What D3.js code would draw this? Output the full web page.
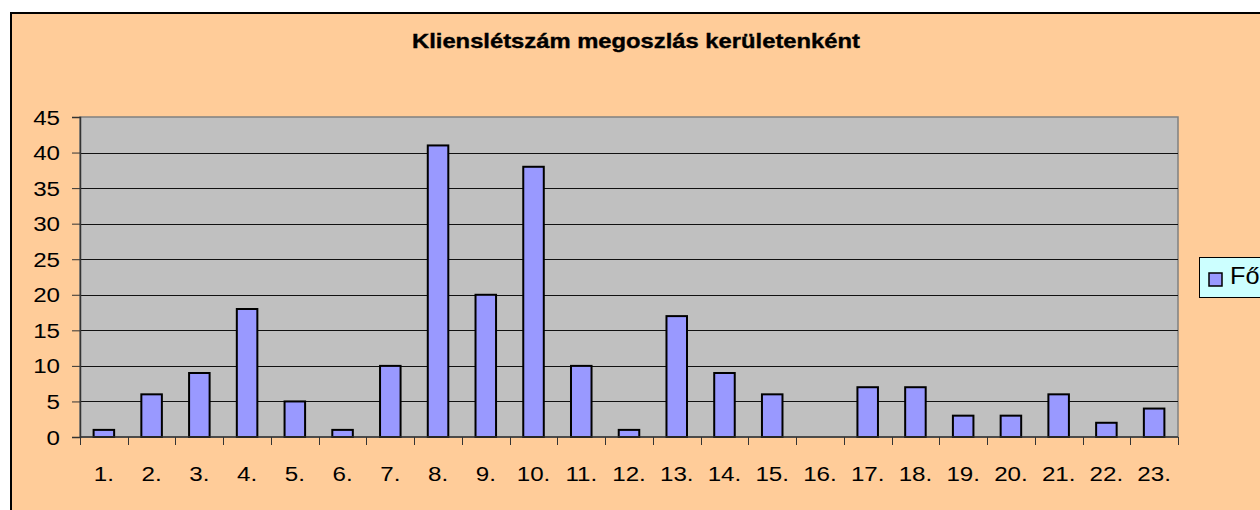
<!DOCTYPE html>
<html>
<head>
<meta charset="utf-8">
<script src="https://cdn.jsdelivr.net/npm/d3@7"></script>
<style>
    body { margin: 0; background: #fff; }
    svg { display: block; font-family: "Liberation Sans", Arial, sans-serif; }
</style>
</head>
<body>
<div id="chart"></div>
<script>
var districts = ["1.", "2.", "3.", "4.", "5.", "6.", "7.", "8.", "9.", "10.", "11.", "12.",
                 "13.", "14.", "15.", "16.", "17.", "18.", "19.", "20.", "21.", "22.", "23."];
var clients = [1, 6, 9, 18, 5, 1, 10, 41, 20, 38, 10, 1, 17, 9, 6, 0, 7, 7, 3, 3, 6, 2, 4];
var yTicks = [0, 5, 10, 15, 20, 25, 30, 35, 40, 45];
var seriesName = "Fő";
var chartTitle = "Klienslétszám megoszlás kerületenként";

var width = 1260;
var height = 510;
var plot = { left: 80, right: 1178, top: 117, bottom: 437 };
var stretch = 1.15; // the original text is a bit wider than Arial

var svg = d3.select("#chart").append("svg")
    .attr("width", width)
    .attr("height", height);

// chart background with black frame
svg.append("rect")
    .attr("x", 11)
    .attr("y", 13)
    .attr("width", width + 20)
    .attr("height", height + 20)
    .attr("fill", "#FFCC99")
    .attr("stroke", "#000")
    .attr("stroke-width", 2);

svg.append("text")
    .attr("x", 636)
    .attr("y", 48)
    .attr("text-anchor", "middle")
    .attr("font-size", "21px")
    .attr("font-weight", "bold")
    .attr("stroke", "#000")
    .attr("stroke-width", 0.4)
    .attr("textLength", 448)
    .attr("lengthAdjust", "spacingAndGlyphs")
    .text(chartTitle);

var x = d3.scaleBand()
    .domain(districts)
    .range([plot.left, plot.right])
    .padding(0);

var y = d3.scaleLinear()
    .domain([0, 45])
    .range([plot.bottom, plot.top]);

// plot area
svg.append("rect")
    .attr("x", plot.left)
    .attr("y", plot.top)
    .attr("width", plot.right - plot.left)
    .attr("height", plot.bottom - plot.top)
    .attr("fill", "#C0C0C0")
    .attr("stroke", "#808080")
    .attr("stroke-width", 1.5);

svg.append("g")
    .attr("class", "grid")
    .selectAll("line")
    .data(yTicks.filter(d => d > 0 && d < 45))
    .join("line")
    .attr("x1", plot.left)
    .attr("x2", plot.right)
    .attr("y1", d => Math.round(y(d)) + 0.5)
    .attr("y2", d => Math.round(y(d)) + 0.5)
    .attr("stroke", "#111")
    .attr("stroke-width", 1);

var barW = x.bandwidth() * 0.43;

svg.append("g")
    .attr("class", "bars")
    .selectAll("rect")
    .data(clients.map((v, i) => ({ name: districts[i], value: v })).filter(d => d.value > 0))
    .join("rect")
    .attr("x", d => x(d.name) + (x.bandwidth() - barW) / 2)
    .attr("y", d => y(d.value))
    .attr("width", barW)
    .attr("height", d => y(0) - y(d.value))
    .attr("fill", "#9999FF")
    .attr("stroke", "#000")
    .attr("stroke-width", 2);

// y axis: line and ticks from d3, labels drawn stretched
var yAxis = svg.append("g")
    .attr("transform", "translate(" + plot.left + ",0)")
    .call(d3.axisLeft(y).tickValues(yTicks).tickSize(8).tickFormat(""));
yAxis.select(".domain").attr("stroke", "#333").attr("stroke-width", 1.5);
yAxis.selectAll(".tick line").attr("stroke", "#333");

svg.append("g")
    .attr("class", "y-labels")
    .selectAll("text")
    .data(yTicks)
    .join("text")
    .attr("transform", d => "translate(60," + (y(d) + 7.5) + ") scale(" + stretch + ",1)")
    .attr("text-anchor", "end")
    .attr("font-size", "21px")
    .text(d => d);

// x axis, ticks sit between categories
var xAxis = svg.append("g")
    .attr("transform", "translate(0," + plot.bottom + ")");
xAxis.append("line")
    .attr("x1", plot.left)
    .attr("x2", plot.right)
    .attr("stroke", "#333")
    .attr("stroke-width", 1.5);
xAxis.selectAll("line.tick")
    .data(districts.concat(["end"]))
    .join("line")
    .attr("class", "tick")
    .attr("x1", (d, i) => Math.round(plot.left + i * x.step()) + 0.5)
    .attr("x2", (d, i) => Math.round(plot.left + i * x.step()) + 0.5)
    .attr("y1", 0)
    .attr("y2", 8)
    .attr("stroke", "#333");
xAxis.selectAll("text")
    .data(districts)
    .join("text")
    .attr("transform", d => "translate(" + (x(d) + x.bandwidth() / 2) + ",44) scale(" + stretch + ",1)")
    .attr("text-anchor", "middle")
    .attr("font-size", "21px")
    .text(d => d);

// legend
var legend = svg.append("g")
    .attr("class", "legend");
legend.append("rect")
    .attr("x", 1199.5)
    .attr("y", 257.5)
    .attr("width", 100)
    .attr("height", 40)
    .attr("fill", "#CCFFFF")
    .attr("stroke", "#000")
    .attr("stroke-width", 1);
legend.append("rect")
    .attr("x", 1209)
    .attr("y", 273)
    .attr("width", 13)
    .attr("height", 13)
    .attr("fill", "#9999FF")
    .attr("stroke", "#000")
    .attr("stroke-width", 1.5);
legend.append("text")
    .attr("transform", "translate(1230,284) scale(1.1,1)")
    .attr("font-size", "23px")
    .text(seriesName);
</script>
</body>
</html>
